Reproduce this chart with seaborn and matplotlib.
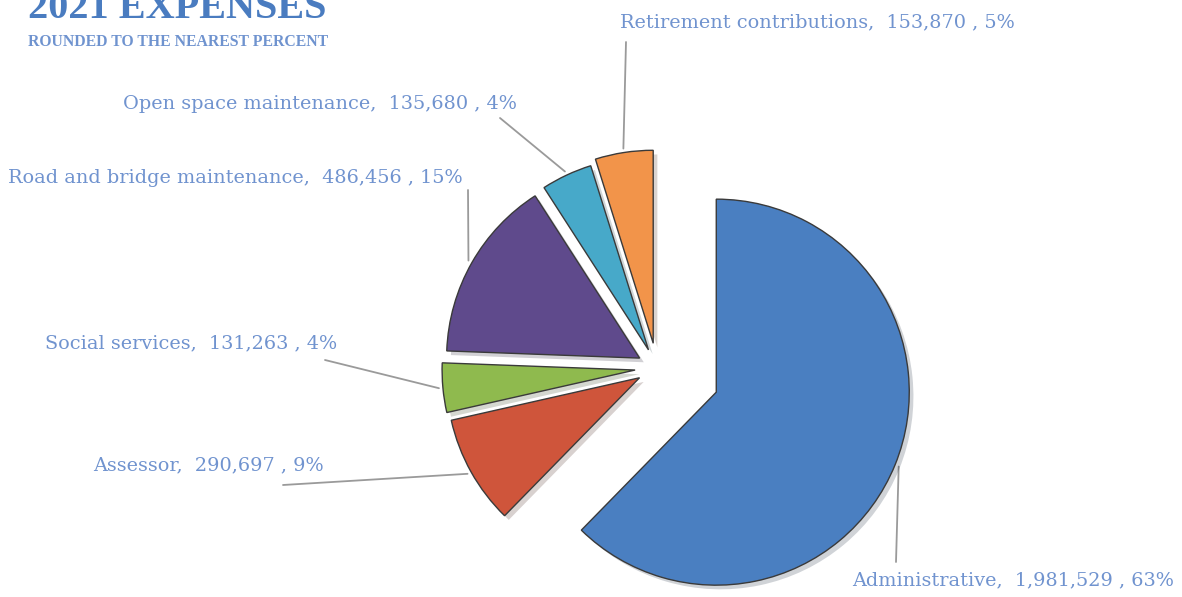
import matplotlib.pyplot as plt
import matplotlib.patheffects as pe
import numpy as np
import seaborn as sns

# data
categories = ["Administrative", "Assessor", "Social services",
              "Road and bridge maintenance", "Open space maintenance",
              "Retirement contributions"]
amounts = [1981529, 290697, 131263, 486456, 135680, 153870]
percents = [63, 9, 4, 15, 4, 5]

title = "2021 EXPENSES"
subtitle = "ROUNDED TO THE NEAREST PERCENT"

# styles / layout
slice_colors = ["#4a7fc1", "#cf553b", "#8fba4e", "#5f4a8c", "#47a9c9", "#f2944a"]
explode_px = [64, 20, 22, 20, 20, 25]
label_pos = [(852, 580), (93, 465), (45, 343), (8, 178), (123, 104), (620, 22)]
leader_end = [(896, 562), (283, 485), (325, 360), (468, 190), (500, 118), (626, 42)]

W, H = 1182, 597
sns.set_theme(style="white")
plt.rcParams['font.family'] = ['DejaVu Serif']

fig = plt.figure(figsize=(W / 100, H / 100), dpi=100)
ax = fig.add_axes([0, 0, 1, 1])

cx, cy, r = 657, H - 368, 193
wedges, _ = ax.pie(amounts, colors=slice_colors, explode=explode_px,
                   startangle=90, counterclock=False, center=(cx, cy), radius=r,
                   wedgeprops=dict(edgecolor='#3a3a3a', linewidth=1.0))
for w in wedges:
    w.set_path_effects([pe.SimplePatchShadow(offset=(3, -3), alpha=0.2), pe.Normal()])

label_color = '#7093cf'
for w, name, amt, pct, (lx, ly), (ex, ey) in zip(wedges, categories, amounts, percents,
                                                 label_pos, leader_end):
    mid = np.deg2rad((w.theta1 + w.theta2) / 2)
    px = w.center[0] + (w.r + 4) * np.cos(mid)
    py = w.center[1] + (w.r + 4) * np.sin(mid)
    ax.plot([px, ex], [py, H - ey], color='#9a9a9a', lw=1.3, zorder=0)
    ax.text(lx, H - ly, f"{name},  {amt:,} , {pct}%", ha='left', va='center',
            fontsize=13.9, color=label_color)

ax.text(28, H - 18, title, fontsize=29, fontweight='bold', color='#4a7cc0',
        va='baseline', ha='left', family=['Liberation Serif'])
ax.text(28, H - 42, subtitle, fontsize=11.3, fontweight='bold', color='#6f93cf',
        va='center', ha='left', family=['Liberation Serif'])

ax.set_xlim(0, W)
ax.set_ylim(0, H)
ax.set_aspect('equal')
ax.axis('off')

fig.savefig('out.png', dpi=100)
